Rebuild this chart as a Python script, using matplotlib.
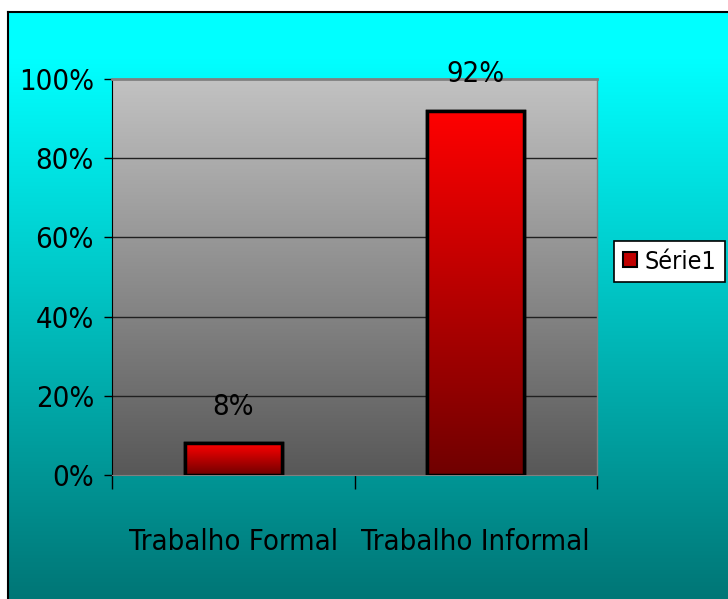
import numpy as np
import matplotlib
matplotlib.use("Agg")
import matplotlib.pyplot as plt
from matplotlib.patches import Rectangle

categories = ["Trabalho Formal", "Trabalho Informal"]
values = [8, 92]
labels = ["8%", "92%"]
yticks = [0, 20, 40, 60, 80, 100]
series_name = "Série1"

# condensed face, closest thing to the narrow font of the original
plt.rcParams['font.family'] = ['DejaVu Sans']
plt.rcParams['font.stretch'] = 'condensed'

fig = plt.figure(figsize=(7.28, 5.99), dpi=100)
fig.patch.set_facecolor("white")

# chart background (cyan -> teal gradient)
bg = fig.add_axes([8 / 728, 0, 1 - 8 / 728 + 0.01, 1 - 12 / 599])
grad = np.linspace(0, 1, 256).reshape(-1, 1)
top = np.array([0, 255, 255]) / 255
bot = np.array([0, 118, 118]) / 255
g = np.clip((grad - 0.08) / 0.92, 0, 1)
bg_img = top + (bot - top) * g[..., None]
bg.imshow(bg_img, aspect="auto", extent=[0, 1, 0, 1], origin="upper")
bg.set_xlim(0, 1)
bg.set_ylim(0, 1)
bg.set_xticks([])
bg.set_yticks([])
for s in ["right", "bottom"]:
    bg.spines[s].set_visible(False)
for s in ["left", "top"]:
    bg.spines[s].set_linewidth(1.5)

ax = fig.add_axes([112 / 728, 1 - 475 / 599, (597 - 112) / 728, (475 - 79) / 599])
x = np.arange(len(categories))

# plot area gray gradient
pa_top = np.array([0xC2, 0xC2, 0xC2]) / 255
pa_bot = np.array([0x58, 0x58, 0x58]) / 255
pa_img = pa_top + (pa_bot - pa_top) * grad[..., None]
ax.imshow(pa_img, aspect="auto", extent=[-0.5, len(categories) - 0.5, 0, 100], origin="upper", zorder=0)

for yv in yticks[1:-1]:
    ax.axhline(yv, color="#202020", lw=1.0, zorder=1)

bars = ax.bar(x, values, width=0.4, color="#c00000", edgecolor="black", linewidth=2.5, zorder=2)
r_top = np.array([1.0, 0.0, 0.0])
r_bot = np.array([0x70, 0, 0]) / 255
r_img = r_top + (r_bot - r_top) * grad[..., None]
for b in bars:
    bx, by = b.get_x(), b.get_y()
    w, h = b.get_width(), b.get_height()
    im = ax.imshow(r_img, aspect="auto", extent=[bx, bx + w, by, by + h], origin="upper", zorder=2.5)
    im.set_clip_path(b)
    ax.add_patch(Rectangle((bx, by), w, h, fill=False, edgecolor="black", linewidth=2.5, zorder=3))

for xi, v, lab in zip(x, values, labels):
    ax.annotate(lab, (xi, v), xytext=(0, 16), textcoords="offset points",
                ha="center", va="bottom", fontsize=21, zorder=4)

ax.set_xlim(-0.5, len(categories) - 0.5)
ax.set_ylim(0, 100)
ax.set_yticks(yticks)
ax.set_yticklabels([f"{t}%" for t in yticks], fontsize=21)
ax.tick_params(axis="y", length=6, width=1, pad=7, colors="black")
ax.set_xticks(x)
ax.set_xticklabels(categories, fontsize=21)
ax.tick_params(axis="x", which="major", length=0, pad=38)
ax.set_xticks([-0.5, 0.5, 1.5], minor=True)
ax.tick_params(axis="x", which="minor", length=10, width=1, color="black")

ax.spines["top"].set_color("#808080")
ax.spines["right"].set_color("#808080")
ax.spines["top"].set_linewidth(2)
ax.spines["right"].set_linewidth(1)
ax.spines["left"].set_color("black")
ax.spines["bottom"].set_color("#808080")

handle = Rectangle((0, 0), 1, 1, facecolor="#c00000", edgecolor="black", linewidth=1.5)
leg = fig.legend([handle], [series_name], loc="upper left", bbox_to_anchor=(614 / 728, 1 - 241 / 599),
                 fontsize=18, frameon=True, fancybox=False, edgecolor="black", framealpha=1,
                 handlelength=0.55, handleheight=0.55, handletextpad=0.3, borderpad=0.35,
                 borderaxespad=0)
leg.get_frame().set_linewidth(1.2)
leg.get_frame().set_facecolor("white")

fig.savefig("out.png", dpi=100)
